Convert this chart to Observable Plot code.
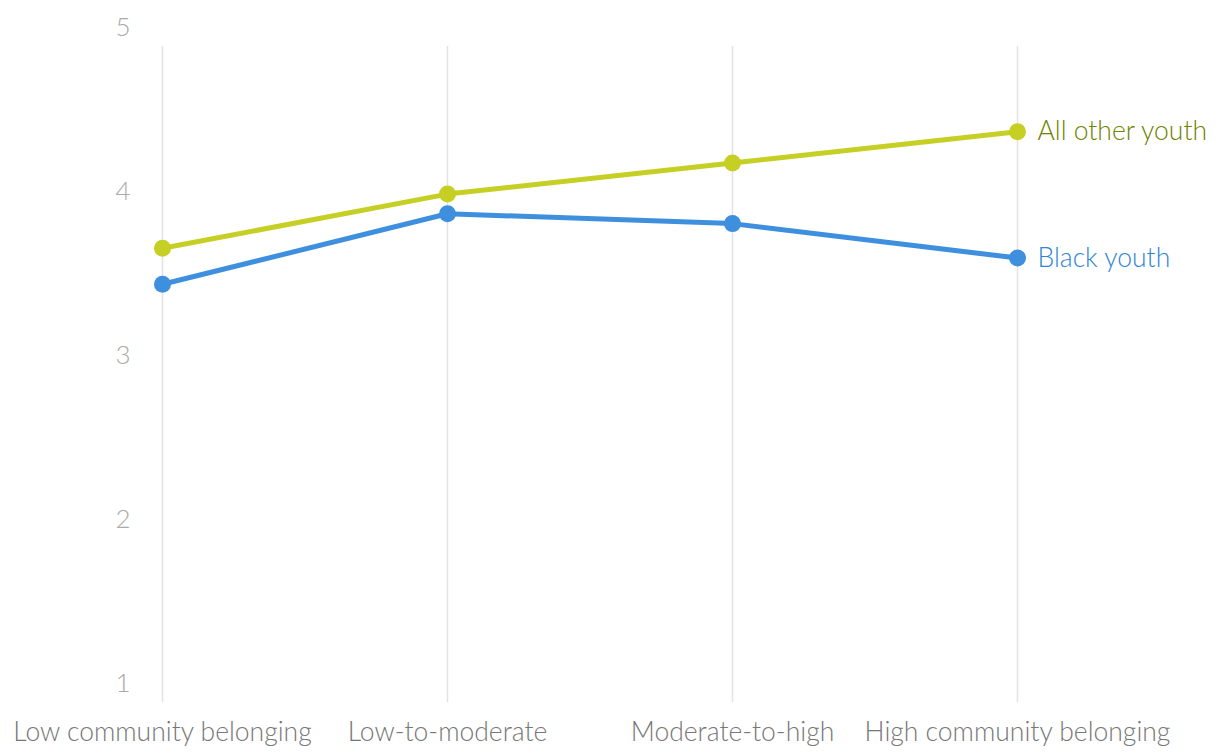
<!DOCTYPE html>
<html>
<head>
<meta charset="utf-8">
<script src="https://cdn.jsdelivr.net/npm/d3@7"></script>
<script src="https://cdn.jsdelivr.net/npm/@observablehq/plot@0.6"></script>
<style>
  html, body { margin: 0; padding: 0; background: #fff; }
  #chart svg { display: block; }
</style>
</head>
<body>
<div id="chart"></div>
<script>
const categories = ["Low community belonging", "Low-to-moderate", "Moderate-to-high", "High community belonging"];
const allOtherYouth = [3.77, 4.10, 4.29, 4.48];
const blackYouth = [3.55, 3.98, 3.92, 3.71];
const seriesNames = ["All other youth", "Black youth"];
const yTicks = [1, 2, 3, 4, 5];

const lineColors = {"All other youth": "#c5cf24", "Black youth": "#3e8fde"};
const labelColors = {"All other youth": "#6f8300", "Black youth": "#2f86d6"};

const data = [];
categories.forEach((c, i) => {
  data.push({series: seriesNames[0], cat: c, value: allOtherYouth[i]});
  data.push({series: seriesNames[1], cat: c, value: blackYouth[i]});
});
const lastPoints = data.filter(d => d.cat === categories[categories.length - 1]);

const chart = Plot.plot({
  width: 1220,
  height: 756,
  marginTop: 46,
  marginBottom: 54,
  marginLeft: 162,
  marginRight: 203,
  style: {fontFamily: "Lato, 'Open Sans', sans-serif", background: "#fff", fontWeight: 300},
  x: {type: "point", domain: categories, padding: 0},
  y: {domain: [1, 5]},
  marks: [
    Plot.ruleX(categories, {stroke: "#e3e3e3", strokeWidth: 1.5}),
    Plot.axisY({ticks: yTicks, tickSize: 0, tickPadding: 32, dy: -19, fontSize: 26, fill: "#aaaaaa", fontWeight: 300, label: null, tickFormat: d => String(d)}),
    Plot.axisX({tickSize: 0, tickPadding: 20, fontSize: 26.5, fill: "#777777", fontWeight: 300, label: null}),
    Plot.line(data, {x: "cat", y: "value", z: "series", stroke: d => lineColors[d.series], strokeWidth: 5, curve: "linear"}),
    Plot.dot(data, {x: "cat", y: "value", fill: d => lineColors[d.series], r: 8.5, stroke: "none"}),
    Plot.text(lastPoints, {x: "cat", y: "value", text: "series", fill: d => labelColors[d.series], textAnchor: "start", dx: 20, fontSize: 26.5, fontWeight: 300})
  ]
});
document.getElementById("chart").appendChild(chart);
</script>
</body>
</html>
